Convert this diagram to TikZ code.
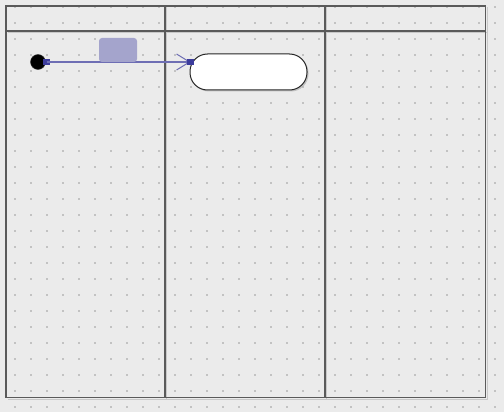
\documentclass[tikz,border=0pt]{standalone}
\usetikzlibrary{arrows.meta,shadows}
\definecolor{bg}{HTML}{EBEBEB}
\definecolor{griddot}{HTML}{C2C2C2}
\definecolor{laneline}{HTML}{5A5A5A}
\definecolor{laneshadow}{HTML}{C8C8C8}
\definecolor{edgeblue}{HTML}{6E6EB4}
\definecolor{portblue}{HTML}{3C3C9C}
\definecolor{labelfill}{HTML}{A4A4CC}
\tikzset{
  lanestyle/.style={draw=laneline, line width=1.6pt},
  laneshade/.style={draw=laneshadow, line width=1.6pt},
  portsq/.style={rectangle, fill=portblue, inner sep=0pt, minimum size=6.5pt},
  statebox/.style={rectangle, rounded corners=17.5pt, draw=black!85, line width=1pt, fill=white,
    minimum width=117pt, minimum height=36pt, inner sep=0pt,
    drop shadow={shadow xshift=1.5pt, shadow yshift=-1.5pt, fill=black!35, opacity=.6}},
  initnode/.style={circle, fill=black, draw=black!80, inner sep=0pt, minimum size=15pt},
  lblbox/.style={rectangle, rounded corners=3pt, fill=labelfill, inner sep=0pt, minimum width=38pt, minimum height=24pt},
  edge/.style={draw=edgeblue, line width=1.1pt},
}
\begin{document}
\begin{tikzpicture}[x=1pt,y=-1pt]
\useasboundingbox (0,0) rectangle (504,412);
\fill[bg] (0,0) rectangle (504,412);
\foreach \i in {15,31,...,495}{
  \foreach \j in {7,23,...,407}{
    \fill[griddot] (\i-1,\j-1) rectangle (\i+1,\j+1);
  }
}
% lane shadows
\draw[laneshade] (487.5,7.5) -- (487.5,399.5) -- (7.5,399.5);
\draw[laneshade] (7.5,32.5) -- (487.5,32.5);
\draw[laneshade] (166.5,7.5) -- (166.5,399.5);
\draw[laneshade] (326.5,7.5) -- (326.5,399.5);
% lanes
\draw[lanestyle] (6,6) rectangle (485.5,397.5);
\draw[lanestyle] (6,31) -- (485.5,31);
\draw[lanestyle] (165,6) -- (165,397.5);
\draw[lanestyle] (325,6) -- (325,397.5);
% nodes
\node[initnode] (init) at (38,62) {};
\node[statebox] (s1) at (248.5,72) {};
\node[portsq] (p1) at (46.5,62) {};
\node[portsq] (p2) at (190.5,62) {};
\draw[edge, -{Straight Barb[length=13pt,width=16pt,line width=1pt]}] (p1.center) -- (p2.center);
\node[portsq] at (p2) {};
\node[lblbox] (lbl) at (118,50) {};
\end{tikzpicture}
\end{document}
